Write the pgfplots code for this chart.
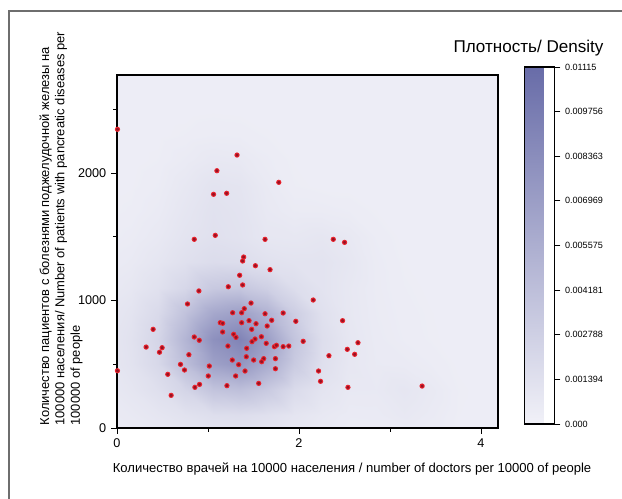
\documentclass[border=0pt]{standalone}
\usepackage{fontspec}
\setmainfont{Liberation Sans}
\usepackage{pgfplots}
\pgfplotsset{compat=1.18}
\definecolor{dotRing}{RGB}{235,35,45}
\definecolor{dotCore}{RGB}{150,18,35}
\definecolor{frameGrey}{RGB}{110,110,110}

% density surface, values in units of 1e-4 (read off the shading)
\pgfplotstableread{
x y c
0 0 4.3
0.3 0 5.1
0.6 0 6.1
0.9 0 7.2
1.2 0 8.0
1.5 0 8.1
1.8 0 7.4
2.1 0 6.2
2.4 0 5.1
2.7 0 4.3
3.0 0 3.9
3.3 0 3.9
3.6 0 3.5
3.9 0 3.1
4.2 0 3.0
0 200 5.4
0.3 200 7.1
0.6 200 9.5
0.9 200 12.6
1.2 200 15.7
1.5 200 16.5
1.8 200 14.1
2.1 200 10.3
2.4 200 7.4
2.7 200 5.6
3.0 200 5.8
3.3 200 7.6
3.6 200 5.7
3.9 200 3.5
4.2 200 3.0
0 400 6.8
0.3 400 9.7
0.6 400 14.8
0.9 400 23.6
1.2 400 37.7
1.5 400 41.4
1.8 400 32.8
2.1 400 18.5
2.4 400 10.9
2.7 400 7.2
3.0 400 7.1
3.3 400 9.4
3.6 400 6.8
3.9 400 3.7
4.2 400 3.1
0 600 7.9
0.3 600 12.1
0.6 600 20.9
0.9 600 42.8
1.2 600 67.5
1.5 600 76.0
1.8 600 58.2
2.1 600 32.3
2.4 600 14.7
2.7 600 8.4
3.0 600 6.2
3.3 600 5.8
3.6 600 4.5
3.9 600 3.3
4.2 600 3.1
0 800 8.2
0.3 800 12.8
0.6 800 23.2
0.9 800 49.8
1.2 800 80.7
1.5 800 91.5
1.8 800 69.4
2.1 800 37.5
2.4 800 16.1
2.7 800 8.8
3.0 800 5.8
3.3 800 4.4
3.6 800 3.6
3.9 800 3.2
4.2 800 3.1
0 1000 7.5
0.3 1000 11.3
0.6 1000 19.3
0.9 1000 39.2
1.2 1000 61.4
1.5 1000 68.6
1.8 1000 52.5
2.1 1000 29.7
2.4 1000 13.9
2.7 1000 8.1
3.0 1000 5.4
3.3 1000 4.1
3.6 1000 3.5
3.9 1000 3.2
4.2 1000 3.1
0 1200 6.1
0.3 1200 8.7
0.6 1200 13.5
0.9 1200 21.7
1.2 1200 33.6
1.5 1200 35.7
1.8 1200 27.9
2.1 1200 16.8
2.4 1200 11.6
2.7 1200 7.9
3.0 1200 5.1
3.3 1200 3.8
3.6 1200 3.3
3.9 1200 3.1
4.2 1200 3.0
0 1400 4.8
0.3 1400 6.5
0.6 1400 9.7
0.9 1400 14.2
1.2 1400 17.5
1.5 1400 16.6
1.8 1400 13.1
2.1 1400 11.5
2.4 1400 11.7
2.7 1400 8.8
3.0 1400 5.0
3.3 1400 3.5
3.6 1400 3.2
3.9 1400 3.1
4.2 1400 3.0
0 1600 3.9
0.3 1600 5.0
0.6 1600 7.3
0.9 1600 11.2
1.2 1600 13.8
1.5 1600 12.1
1.8 1600 8.7
2.1 1600 8.2
2.4 1600 9.4
2.7 1600 7.4
3.0 1600 4.4
3.3 1600 3.2
3.6 1600 3.1
3.9 1600 3.0
4.2 1600 3.0
0 1800 3.3
0.3 1800 3.9
0.6 1800 5.7
0.9 1800 9.5
1.2 1800 13.0
1.5 1800 11.5
1.8 1800 7.2
2.1 1800 5.3
2.4 1800 5.2
2.7 1800 4.5
3.0 1800 3.5
3.3 1800 3.1
3.6 1800 3.0
3.9 1800 3.0
4.2 1800 3.0
0 2000 3.1
0.3 2000 3.4
0.6 2000 4.6
0.9 2000 8.0
1.2 2000 11.6
1.5 2000 10.5
1.8 2000 6.3
2.1 2000 3.8
2.4 2000 3.2
2.7 2000 3.1
3.0 2000 3.0
3.3 2000 3.0
3.6 2000 3.0
3.9 2000 3.0
4.2 2000 3.0
0 2200 3.0
0.3 2200 3.1
0.6 2200 3.7
0.9 2200 5.6
1.2 2200 7.8
1.5 2200 7.2
1.8 2200 4.8
2.1 2200 3.4
2.4 2200 3.0
2.7 2200 3.0
3.0 2200 3.0
3.3 2200 3.0
3.6 2200 3.0
3.9 2200 3.0
4.2 2200 3.0
0 2400 3.0
0.3 2400 3.0
0.6 2400 3.2
0.9 2400 3.8
1.2 2400 4.5
1.5 2400 4.3
1.8 2400 3.6
2.1 2400 3.1
2.4 2400 3.0
2.7 2400 3.0
3.0 2400 3.0
3.3 2400 3.0
3.6 2400 3.0
3.9 2400 3.0
4.2 2400 3.0
0 2600 3.0
0.3 2600 3.0
0.6 2600 3.0
0.9 2600 3.1
1.2 2600 3.3
1.5 2600 3.2
1.8 2600 3.1
2.1 2600 3.0
2.4 2600 3.0
2.7 2600 3.0
3.0 2600 3.0
3.3 2600 3.0
3.6 2600 3.0
3.9 2600 3.0
4.2 2600 3.0
0 2800 3.0
0.3 2800 3.0
0.6 2800 3.0
0.9 2800 3.0
1.2 2800 3.0
1.5 2800 3.0
1.8 2800 3.0
2.1 2800 3.0
2.4 2800 3.0
2.7 2800 3.0
3.0 2800 3.0
3.3 2800 3.0
3.6 2800 3.0
3.9 2800 3.0
4.2 2800 3.0
}\densitygrid

% regions: doctors per 10000, patients per 100000
\pgfplotstableread{
x y
1.319 2141
1.098 2018
1.778 1927
1.061 1833
1.205 1841
0.849 1480
1.080 1511
1.627 1480
1.392 1341
1.381 1310
1.521 1273
1.682 1242
1.348 1198
1.223 1108
1.381 1122
0.900 1075
0.775 973
1.473 980
2.156 1004
1.271 904
1.370 904
1.399 936
1.627 896
1.826 902
1.135 826
1.161 821
1.370 826
1.451 842
1.528 818
1.650 800
1.700 845
1.965 837
0.397 774
1.161 753
1.282 735
1.308 711
1.480 774
1.517 698
1.587 716
1.484 677
0.849 714
0.904 688
2.046 680
0.320 635
0.496 630
0.467 594
1.219 643
1.730 638
1.752 649
1.826 638
1.888 643
1.425 625
1.421 559
1.267 533
1.502 533
1.612 544
1.590 520
1.741 544
0.790 575
0.698 499
0.742 455
1.014 486
1.337 497
1.304 408
1.407 447
1.741 465
0.558 421
1.003 408
0.907 342
0.856 319
1.208 332
1.557 350
0.595 256
0.005 449
0.005 2343
2.215 447
2.237 366
2.479 842
2.648 669
2.531 617
2.612 578
2.329 567
2.538 319
3.353 329
2.377 1480
2.501 1456
1.640 664
}\regions

\begin{document}
\begin{tikzpicture}
\path[use as bounding box] (0,0) rectangle (466.5pt,374.25pt);
\draw[frameGrey,line width=0.8pt] (6.75pt,0) -- (6.75pt,366pt) -- (466.5pt,366pt);
\begin{axis}[
  scale only axis, at={(87.75pt,53.25pt)}, anchor=south west,
  width=285.75pt, height=264.75pt,
  xmin=0, xmax=4.187, ymin=0, ymax=2769,
  xtick={0,2,4}, minor xtick={1,3},
  ytick={0,1000,2000}, minor ytick={500,1500,2500},
  xtick pos=bottom, ytick pos=left, tick align=outside,
  major tick length=4.5pt, minor tick length=3pt,
  tick style={black,line width=0.7pt},
  axis line style={black,line width=0.8pt},
  axis on top,
  /pgf/number format/assume math mode=true,
  /pgf/number format/set thousands separator={},
  tick label style={font=\fontsize{9.5}{11}\selectfont},
  xlabel={Количество врачей на 10000 населения / number of doctors per 10000 of people},
  xlabel style={font=\fontsize{9.8}{11}\selectfont,anchor=center,
    at={(axis description cs:0.617,-0.116)}},
  ylabel={Количество пациентов с болезнями поджелудочной железы на\\
    100000 населения/ Number of patients with pancreatic diseases per\\
    100000 of people},
  ylabel style={font=\fontsize{9.7}{11.5}\selectfont,align=left,rotate=0,anchor=west,
    at={(axis description cs:-0.147,-0.006)}},
  colormap={dens}{rgb255=(241,241,248) rgb255=(104,108,168)},
  point meta min=0, point meta max=111.5,
  colorbar,
  colorbar style={
    at={(parent axis.south east)}, anchor=south west,
    xshift=11.25pt, yshift=3pt,
    scale only axis, width=22.5pt, height=267.75pt,
    ytick={0,13.9375,27.875,41.8125,55.75,69.6875,83.625,97.5625,111.5},
    yticklabels={0.000,0.001394,0.002788,0.004181,0.005575,0.006969,0.008363,0.009756,0.01115},
    ytick pos=right, tick align=outside, major tick length=4.5pt,
    tick style={black,line width=0.6pt},
    axis line style={black,line width=0.8pt},
    yticklabel style={font=\fontsize{6.8}{7}\selectfont},
  },
]
\addplot[matrix plot*, shader=interp, mesh/cols=15, point meta=explicit]
  table[x=x,y=y,meta=c] {\densitygrid};
\addplot[only marks, mark=*, mark size=1.6pt,
  mark options={draw=dotRing,fill=dotCore,line width=0.7pt}]
  table[x=x,y=y] {\regions};
\end{axis}
\node[font=\fontsize{12.8}{14}\selectfont] at (396.4pt,338pt) {Плотность/ Density};
\end{tikzpicture}
\end{document}
